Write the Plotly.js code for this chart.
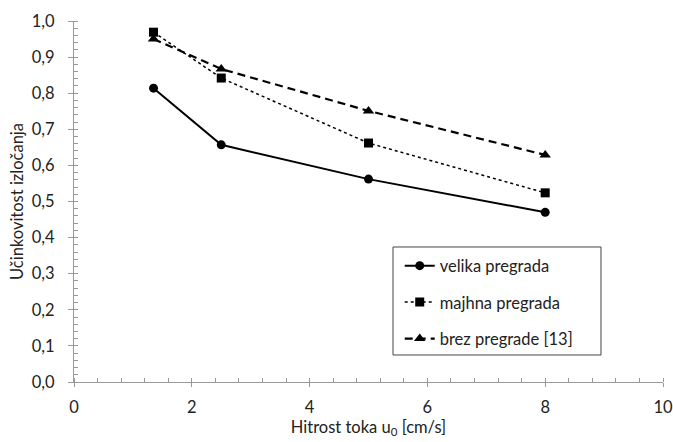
<!DOCTYPE html>
<html><head><meta charset="utf-8">
<script src="https://cdn.plot.ly/plotly-3.0.1.min.js"></script>
<style>body{margin:0;background:#fff}#c{width:673px;height:442px}</style>
</head><body><div id="c"></div>
<script>
const xVals = [1.35, 2.5, 5, 8];
const velika = [0.814, 0.657, 0.562, 0.470];
const majhna = [0.969, 0.842, 0.662, 0.524];
const brez = [0.950, 0.867, 0.751, 0.629];
const names = ['velika pregrada', 'majhna pregrada', 'brez pregrade [13]'];
const yTickVals = [0,0.1,0.2,0.3,0.4,0.5,0.6,0.7,0.8,0.9,1.0];
const yTickText = ['0,0','0,1','0,2','0,3','0,4','0,5','0,6','0,7','0,8','0,9','1,0'];

const FS = 16.5;
const font = {family: 'Lato, "Open Sans", sans-serif', size: FS, color: '#222'};
const traces = [
  {x: xVals, y: velika, name: names[0], legendgroup: 'a', mode: 'lines+markers',
   line: {color: '#000', width: 2, dash: 'solid'}, marker: {symbol: 'circle', size: 9, color: '#000'}},
  {x: xVals, y: majhna, name: names[1], legendgroup: 'b', mode: 'lines+markers',
   line: {color: '#000', width: 1.5, dash: 'dot'}, marker: {symbol: 'square', size: 9, color: '#000'}},
  {x: xVals, y: brez, name: names[2], legendgroup: 'c', mode: 'lines+markers',
   line: {color: '#000', width: 2.2, dash: '8px,5px'}, marker: {symbol: 'triangle-up', size: 10, color: '#000'}},
  {x: [0], y: [0], xaxis: 'x2', yaxis: 'y2', showlegend: false, hoverinfo: 'skip', mode: 'markers', marker: {opacity: 0}}
];
const layout = {
  width: 673, height: 442,
  margin: {l: 74, r: 10, t: 21, b: 60},
  paper_bgcolor: '#fff', plot_bgcolor: '#fff',
  font: font,
  showlegend: true,
  legend: {x: 0.553, y: 0.37, xanchor: 'left', yanchor: 'top', borderwidth: 0,
           bgcolor: 'rgba(0,0,0,0)', traceorder: 'grouped', tracegroupgap: 12, font: font,
           itemwidth: 30},
  shapes: [{type: 'rect', xref: 'paper', yref: 'paper', x0: 0.5416, x1: 0.8947, y0: 0.0748, y1: 0.374,
            line: {color: '#444', width: 1}, fillcolor: 'rgba(0,0,0,0)', layer: 'above'}],
  xaxis: {range: [0, 10], dtick: 2, tick0: 0, showgrid: false, zeroline: false,
          showline: true, linecolor: '#999', linewidth: 1, ticks: 'outside', ticklen: 4, tickcolor: '#999',
          ticklabelstandoff: 6,
          minor: {dtick: 0.4, ticks: 'inside', ticklen: 4, tickcolor: '#999'},
          title: {text: 'Hitrost toka u<sub>0</sub> [cm/s]', standoff: 4, font: font},
          tickfont: font},
  yaxis: {range: [0, 1], tickvals: yTickVals, ticktext: yTickText, showgrid: false, zeroline: false,
          showline: true, linecolor: '#999', linewidth: 1, ticks: 'outside', ticklen: 5, tickcolor: '#999',
          ticklabelstandoff: 10,
          minor: {dtick: 0.02, ticks: 'inside', ticklen: 4, tickcolor: '#999'},
          title: {text: 'Učinkovitost izločanja', standoff: 4, font: font},
          tickfont: font},
  xaxis2: {range: [0, 10], dtick: 2, overlaying: 'x', anchor: 'y2', showgrid: false, zeroline: false,
           showticklabels: false, ticks: 'inside', ticklen: 4, tickcolor: '#999', showline: false},
  yaxis2: {range: [0, 1], dtick: 0.1, overlaying: 'y', anchor: 'x2', side: 'left', showgrid: false, zeroline: false,
           showticklabels: false, ticks: 'inside', ticklen: 4, tickcolor: '#999', showline: false}
};
Plotly.newPlot('c', traces, layout, {displayModeBar: false, staticPlot: true});
</script></body></html>
